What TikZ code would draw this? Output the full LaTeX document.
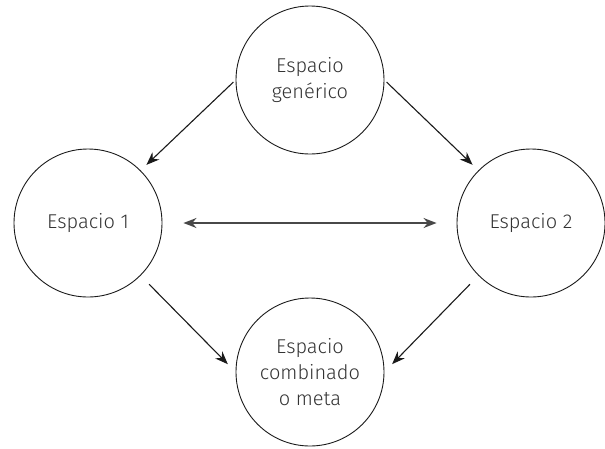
\documentclass[tikz,border=0pt]{standalone}
\usepackage{fontspec}
\setmainfont{Fira Sans Light}
\usetikzlibrary{arrows.meta}
\definecolor{txt}{HTML}{333333}
\definecolor{ln}{HTML}{1A1A1A}
\begin{document}
\begin{tikzpicture}[x=1pt,y=-1pt,
  space/.style={circle,draw=ln,line width=0.9pt,minimum size=148pt,inner sep=0pt,
    align=center,text=txt,font=\fontsize{20}{26}\selectfont},
  conn/.style={draw=ln,line width=1.1pt,-{Stealth[length=13pt,width=10pt]}},
  biconn/.style={draw=ln!80!white,line width=1.5pt,{Stealth[length=13pt,width=10pt]}-{Stealth[length=13pt,width=10pt]}}]
\useasboundingbox (0,0) rectangle (605,448);
\node[space] (g) at (310,80) {Espacio\\genérico};
\node[space] (l) at (88,223) {Espacio 1};
\node[space] (r) at (531,223) {Espacio 2};
\node[space] (b) at (310,372) {Espacio\\combinado\\o meta};
\draw[conn,shorten <=3pt,shorten >=8pt] (g.west) -- (l.45);
\draw[conn,shorten <=3pt,shorten >=8pt] (g.east) -- (r.135);
\draw[conn,shorten <=12pt,shorten >=11pt] (l.-45) -- (b.west);
\draw[conn,shorten <=12pt,shorten >=11pt] (r.-135) -- (b.east);
\draw[biconn,shorten <=21pt,shorten >=20pt] (l.east) -- (r.west);
\end{tikzpicture}
\end{document}
